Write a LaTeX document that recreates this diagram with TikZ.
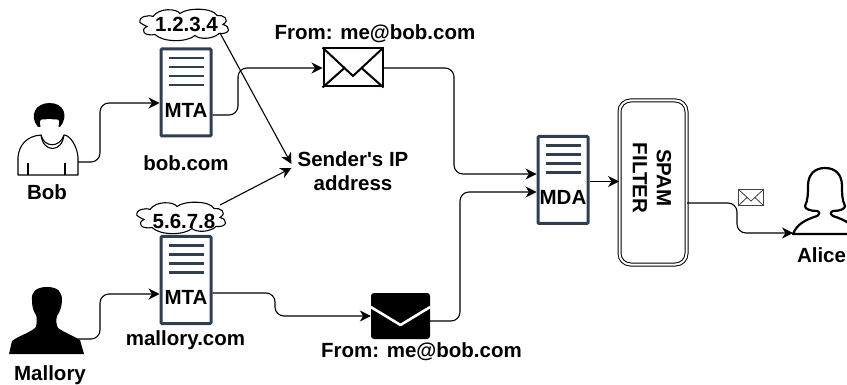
\documentclass[tikz,border=0pt]{standalone}
\usepackage{fontspec}
\setmainfont[Ligatures=TeXOff]{Liberation Sans}
\usetikzlibrary{arrows.meta,calc}
\definecolor{navy}{HTML}{2F3E50}
\tikzset{
  txt/.style={font=\fontsize{20.5}{24}\selectfont\bfseries,inner sep=0pt,align=center,text=black},
  conn/.style={draw=black,line width=1.1pt,rounded corners=9pt,-{Stealth[length=11pt,width=11pt,inset=3.5pt]}},
  straight/.style={draw=black,line width=1.1pt,-{Stealth[length=11pt,width=11pt,inset=3.5pt]}},
  srvbox/.style={draw=navy,line width=3pt,rounded corners=1pt,fill=white,minimum width=50pt,minimum height=87pt,inner sep=0pt},
  srvbar/.style={draw=navy,line width=2.8pt},
  ghost/.style={inner sep=0pt,outer sep=0pt},
  cloudline/.style={draw=black,line width=1.1pt,fill=white},
  ipcloud/.pic={
    \path[cloudline] (-45,-2) .. controls (-47,-8) and (-36,-10) .. (-32,-8)
      .. controls (-26,-17) and (-8,-16) .. (-5,-11)
      .. controls (2,-17) and (28,-17) .. (32,-9)
      .. controls (38,-10) and (46,-5) .. (38,0)
      .. controls (46,2) and (46,10) .. (34,9)
      .. controls (28,15) and (14,15) .. (10,11)
      .. controls (2,18) and (-22,18) .. (-30,10)
      .. controls (-40,12) and (-46,6) .. (-38,2)
      .. controls (-40,1) and (-43,0) .. (-45,-2) -- cycle;
  }
}
\newcommand{\srvicon}[5]{%
  \node[srvbox] (#1) at (#2,#3) {};
  \foreach \dy in {-34.5,-25.5,-16.5,-7.5}
    \draw[srvbar] ($(#1)+(-17.5,\dy)$) -- ($(#1)+(17.5,\dy)$);
  \node[txt] (#1t) at ($(#1)+(0,#5)$) {#4};
}
\begin{document}
\begin{tikzpicture}[x=1pt,y=-1pt]
\useasboundingbox (0,0) rectangle (847,385);
\clip (0,0) rectangle (847,385);

% Bob
\node[ghost,minimum width=60pt,minimum height=73pt] (bob) at (48,138.5) {};
\draw[black,line width=1.1pt,fill=white,line join=round]
  (18,175) -- (18,157) .. controls (19,146) and (26,136) .. (41,135)
  .. controls (44,148) and (60,148) .. (64,135)
  .. controls (70,135) and (77,146) .. (78,157) -- (78,175) -- cycle;
\draw[black,line width=1.1pt] (28,163) -- (28,175) (65,163) -- (65,175);
\fill[black] (38,127) .. controls (29,116) and (35,103) .. (49.5,103)
  .. controls (64,103) and (69,116) .. (60,127) -- cycle;
\fill[white] (40,122) .. controls (40,118) and (44,120) .. (49,119)
  .. controls (54,120) and (60,118) .. (59,122)
  .. controls (59,129) and (56,133) .. (57,135)
  .. controls (52,142) and (46,142) .. (42,135)
  .. controls (43,133) and (40,129) .. (40,122) -- cycle;
\draw[black,line width=1.1pt] (41,135) .. controls (43,153) and (62,153) .. (64,135);
\node[txt] (boblabel) at (47,192) {Bob};

% Mallory
\node[ghost,minimum width=69pt,minimum height=67pt] (mallory) at (43.5,320.5) {};
\fill[black] (9,354) -- (12,341) .. controls (20,335) and (30,333) .. (36,327)
  .. controls (37,322) and (37,318) .. (36,315)
  .. controls (33,311) and (32,306) .. (32,300)
  .. controls (31,292) and (36,287) .. (47,287)
  .. controls (58,287) and (62,292) .. (62,300)
  .. controls (62,306) and (60,312) .. (57,316)
  .. controls (56,320) and (56,324) .. (58,328)
  .. controls (65,333) and (74,336) .. (80,340) -- (84,354) -- cycle;
\node[txt] (mallorylabel) at (50,375) {Mallory};

% Alice
\node[ghost,minimum width=64pt,minimum height=66pt] (alice) at (825,201) {};
\draw[black,line width=2.2pt,fill=white,line join=round]
  (793,234) .. controls (797,224) and (805,220) .. (817,216)
  .. controls (820,214) and (820,212) .. (817,211)
  .. controls (810,211) and (805,209) .. (805,206)
  .. controls (808,200) and (808,193) .. (808,186)
  .. controls (808,174) and (815,168) .. (825,168)
  .. controls (835,168) and (842,174) .. (842,186)
  .. controls (842,193) and (842,200) .. (845,206)
  .. controls (845,209) and (840,211) .. (833,211)
  .. controls (830,212) and (830,214) .. (833,216)
  .. controls (845,220) and (853,224) .. (857,234) -- cycle;
\node[txt] (alicelabel) at (821.5,255) {Alice};

% clouds
\pic at (185,24.5) {ipcloud};
\node[txt] (ip1) at (186.5,24) {1.2.3.4};
\pic at (182,217.5) {ipcloud};
\node[txt] (ip2) at (184,221) {5.6.7.8};

% servers
\srvicon{mta1}{186}{92.5}{MTA}{18}
\srvicon{mta2}{186}{280}{MTA}{17}
\srvicon{mda}{563}{180}{MDA}{17}
\node[txt] (bobcom) at (186,163) {bob.com};
\node[txt] (mallorycom) at (185.5,340) {mallory.com};

% sender
\node[txt,inner xsep=6pt] (sender) at (353,171) {Sender's IP\\address};
\coordinate (ip1tail) at (220,33);
\coordinate (ip2tail) at (220,205);
\draw[straight] (ip1tail) -- (sender.west |- 0,164);
\draw[straight] (ip2tail) -- (sender.west |- 0,168);

% outlined envelope
\node[draw=black,line width=2pt,fill=white,minimum width=59pt,minimum height=38pt,inner sep=0pt] (env1) at (353,67.5) {};
\draw[black,line width=2pt] (env1.north west) -- (353,76) -- (env1.north east);
\draw[black,line width=2pt] (env1.south west) -- (345,67.5);
\draw[black,line width=2pt] (env1.south east) -- (361,67.5);
\node[txt] (from1) at (375,34) {From: me@bob.com};

% black envelope
\node[fill=black,rounded corners=3pt,minimum width=59pt,minimum height=46pt,inner sep=0pt] (env2) at (400.5,316) {};
\draw[white,line width=2.6pt,line join=round] (env2.west |- 0,307) -- (400.5,325) -- (env2.east |- 0,307);
\node[txt] (from2) at (421.5,351.5) {From: me@bob.com};

% spam filter
\node[draw=black,line width=1pt,double=white,double distance=2pt,rounded corners=11pt,fill=white,minimum width=67pt,minimum height=164pt,inner sep=0pt] (spam) at (653,182.5) {};
\node[txt,rotate=-90] (spamtext) at (652,178) {SPAM\\FILTER};

% small envelope
\node[draw=black!75,line width=0.8pt,fill=white,minimum width=25pt,minimum height=16pt,inner sep=0pt] (env3) at (751,197.5) {};
\draw[black!75,line width=0.8pt] (env3.north west) -- (751,201) -- (env3.north east);
\draw[black!75,line width=0.8pt] (env3.south west) -- (747,197.5);
\draw[black!75,line width=0.8pt] (env3.south east) -- (755,197.5);

% connectors
\draw[conn] (bob.east |- 0,162) -- (100,162) -- (100,103) -- (mta1.west |- 0,103);
\draw[conn] (mta1.east |- 0,115) -- (238,115) -- (238,68) -- (env1.west |- 0,68);
\draw[conn] (mallory.east |- 0,339) -- (100,339) -- (100,294) -- (mta2.west |- 0,294);
\draw[conn] (mta2.east |- 0,293) -- (275,293) -- (275,316) -- (env2.west |- 0,316);
\draw[conn] (env1.east |- 0,68) -- (454,68) -- (454,174) -- (mda.west |- 0,174);
\draw[conn] (env2.east |- 0,321) -- (460,321) -- (460,192) -- (mda.west |- 0,192);
\draw[straight] (mda.east |- 0,181.5) -- (spam.west |- 0,181.5);
\draw[conn] (spam.east |- 0,203) -- (737,203) -- (737,233) -- (alice.west |- 0,233);
\end{tikzpicture}
\end{document}
